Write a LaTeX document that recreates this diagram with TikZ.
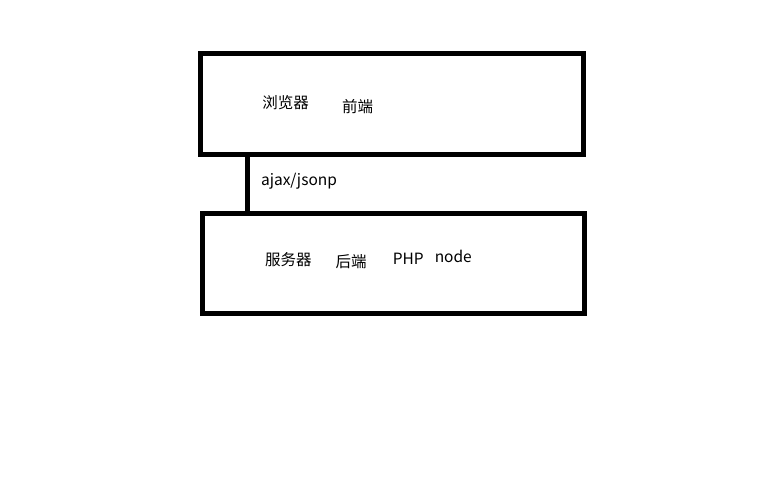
\documentclass[tikz,border=0pt]{standalone}
\usepackage{fontspec}
\setmainfont{Noto Sans CJK SC}
\begin{document}
\begin{tikzpicture}[x=1pt,y=-1pt,
  box/.style={draw=black,line width=5pt,rectangle,inner sep=0pt},
  lbl/.style={font=\fontsize{15.5}{18}\selectfont,inner sep=0pt,anchor=center}]
\useasboundingbox[fill=white] (0,0) rectangle (768,480);
\node[box,minimum width=383.3pt,minimum height=101pt] (front) at (392.3,103.8) {};
\node[box,minimum width=381.6pt,minimum height=100pt] (back) at (393.5,263.3) {};
\coordinate (conn) at (247.3,0);
\draw[line width=5pt] (front.south -| conn) -- (back.north -| conn);
\node[lbl] (t1) at (285.7,102.3) {浏览器};
\node[lbl] (t2) at (357.7,106.7) {前端};
\node[lbl] (t3) at (299,181.7) {ajax/jsonp};
\node[lbl] (t4) at (288.3,260) {服务器};
\node[lbl] (t5) at (351,261.7) {后端};
\node[lbl] (t6) at (408.3,259) {PHP};
\node[lbl] (t7) at (453.3,256.7) {node};
\end{tikzpicture}
\end{document}
